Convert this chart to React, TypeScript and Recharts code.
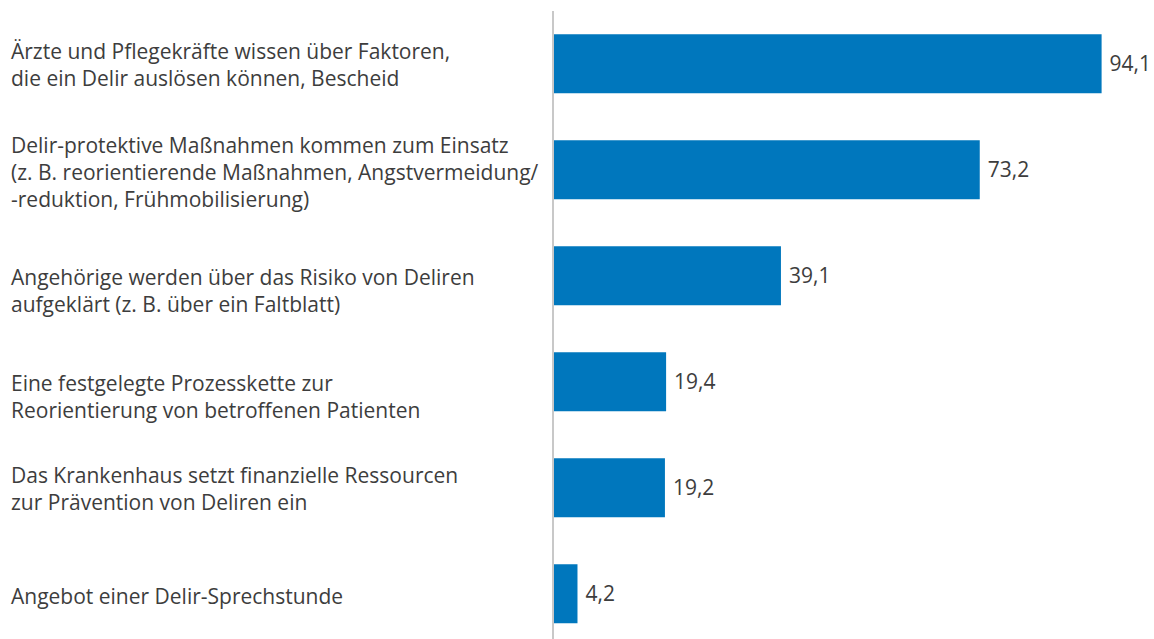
import { BarChart, Bar, XAxis, YAxis, LabelList } from 'recharts';

const categories: string[][] = [
  ['Ärzte und Pflegekräfte wissen über Faktoren,', 'die ein Delir auslösen können, Bescheid'],
  [
    'Delir-protektive Maßnahmen kommen zum Einsatz',
    '(z. B. reorientierende Maßnahmen, Angstvermeidung/',
    '-reduktion, Frühmobilisierung)',
  ],
  ['Angehörige werden über das Risiko von Deliren', 'aufgeklärt (z. B. über ein Faltblatt)'],
  ['Eine festgelegte Prozesskette zur', 'Reorientierung von betroffenen Patienten'],
  ['Das Krankenhaus setzt finanzielle Ressourcen', 'zur Prävention von Deliren ein'],
  ['Angebot einer Delir-Sprechstunde'],
];

const values: number[] = [94.1, 73.2, 39.1, 19.4, 19.2, 4.2];

const data = categories.map((lines, i) => ({
  name: lines.join(' '),
  lines,
  value: values[i],
}));

const FONT = '"Open Sans", Lato, sans-serif';
const TEXT = '#3d3d3d';
const LINE_H = 27;
// the original labels are not all centred on their bars
const LABEL_NUDGE = [0, 2, 14, 14, 0, 2];

const LabelTick = (props: any) => {
  const { y, payload, index } = props;
  const lines = categories[index] ?? [String(payload.value)];
  const startY = y - ((lines.length - 1) * LINE_H) / 2 + (LABEL_NUDGE[index] ?? 0);
  return (
    <text x={11} y={startY} fill={TEXT} fontSize={21} fontFamily={FONT} textAnchor="start" dominantBaseline="central">
      {lines.map((l, i) => (
        <tspan key={i} x={11} y={startY + i * LINE_H}>
          {l}
        </tspan>
      ))}
    </text>
  );
};

const App = () => {
  return (
    <div style={{ position: 'absolute', left: 0, top: 0, width: 1154, height: 639, overflow: 'hidden', background: '#fff' }}>
      <BarChart
        width={1154}
        height={647}
        data={data}
        layout="vertical"
        margin={{ top: 11, right: 18, bottom: 0, left: 0 }}
        barCategoryGap="22%"
      >
        <XAxis type="number" domain={[0, 100]} hide />
        <YAxis
          type="category"
          dataKey="name"
          width={553}
          axisLine={{ stroke: '#c8c8c8', strokeWidth: 2 }}
          tickLine={false}
          interval={0}
          tick={<LabelTick />}
        />
        <Bar dataKey="value" fill="#0077bd" isAnimationActive={false}>
          <LabelList
            dataKey="value"
            position="right"
            offset={8}
            fill={TEXT}
            fontSize={21}
            fontFamily={FONT}
            formatter={(v: any) => String(v).replace('.', ',')}
          />
        </Bar>
      </BarChart>
    </div>
  );
};

export default App;
